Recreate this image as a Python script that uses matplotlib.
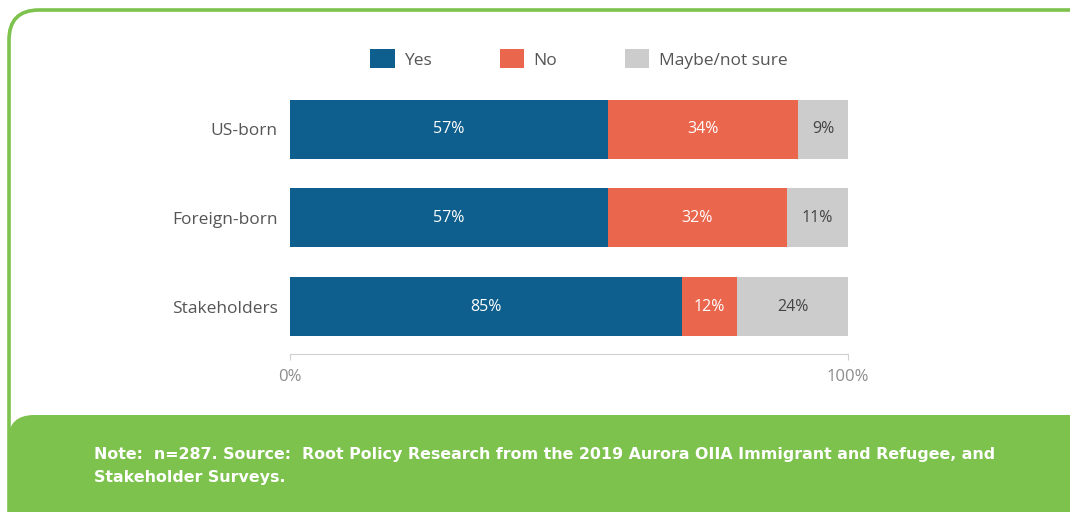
import numpy as np
import matplotlib
matplotlib.use("Agg")
import matplotlib.pyplot as plt
from matplotlib.patches import FancyBboxPatch, Patch

# data
grupos = ["US-born", "Foreign-born", "Stakeholders"]
si = np.array([57, 57, 85])
no = np.array([34, 32, 12])
quiza = np.array([9, 11, 24])
series = ["Yes", "No", "Maybe/not sure"]
nota = ("Note:  n=287. Source:  Root Policy Research from the 2019 Aurora OIIA Immigrant and Refugee, and\n"
        "Stakeholder Surveys.")

colores = ["#0E5F8D", "#EA674E", "#CCCCCC"]
verde = "#7CC24D"
plt.rcParams["font.family"] = ["Open Sans", "DejaVu Sans"]

W, H = 1070, 512
fig = plt.figure(figsize=(W / 100, H / 100), dpi=100)

# fondo: marco verde y pie de pagina (en pixeles)
bg = fig.add_axes([0, 0, 1, 1])
bg.set_xlim(0, W)
bg.set_ylim(H, 0)
bg.axis("off")
bg.add_patch(FancyBboxPatch((9, 10), 1200, 700, boxstyle="round,pad=0,rounding_size=30",
                            fill=False, edgecolor=verde, lw=2.6))
bg.add_patch(FancyBboxPatch((8, 415), 1200, 300, boxstyle="round,pad=0,rounding_size=26",
                            facecolor=verde, edgecolor="none"))
bg.text(94, 466, nota, color="white", fontsize=11.4, fontweight="bold", family=["DejaVu Sans"],
        va="center", ha="left", linespacing=1.65)

# grafica de barras apiladas (normalizadas a 100%)
ax = fig.add_axes([290 / W, 1 - 354 / H, (848 - 290) / W, (354 - 90) / H])
total = si + no + quiza
valores = [si, no, quiza]
y = np.arange(len(grupos))
izq = np.zeros(len(grupos))
for k, v in enumerate(valores):
    ancho = v / total * 100
    ax.barh(y, ancho, left=izq, height=0.665, color=colores[k], edgecolor="none")
    for i in range(len(grupos)):
        ax.text(izq[i] + ancho[i] / 2, y[i], str(v[i]) + "%", ha="center", va="center",
                fontsize=11.5, color="white" if k < 2 else "#444444")
    izq = izq + ancho

ax.set_xlim(0, 100)
ax.set_ylim(2.535, -0.44)
ax.set_yticks(y)
ax.set_yticklabels(grupos, fontsize=12.5, color="#555555")
ax.tick_params(axis="y", length=0, pad=9)
ax.set_xticks([0, 100])
ax.set_xticklabels(["0%", "100%"], fontsize=12, color="#8C8C8C")
ax.tick_params(axis="x", length=4, color="#D0D0D0", pad=7)
for s in ["top", "right", "left"]:
    ax.spines[s].set_visible(False)
ax.spines["bottom"].set_color("#D0D0D0")
ax.patch.set_alpha(0)

handles = [Patch(facecolor=c, edgecolor="none") for c in colores]
fig.legend(handles, series, loc="center", bbox_to_anchor=(579 / W, 1 - 59 / H), ncol=3,
           frameon=False, fontsize=12.5, labelcolor="#555555", handlelength=1.4, handleheight=1.3,
           handletextpad=0.55, columnspacing=3.9)

plt.savefig("out.png", dpi=100)
